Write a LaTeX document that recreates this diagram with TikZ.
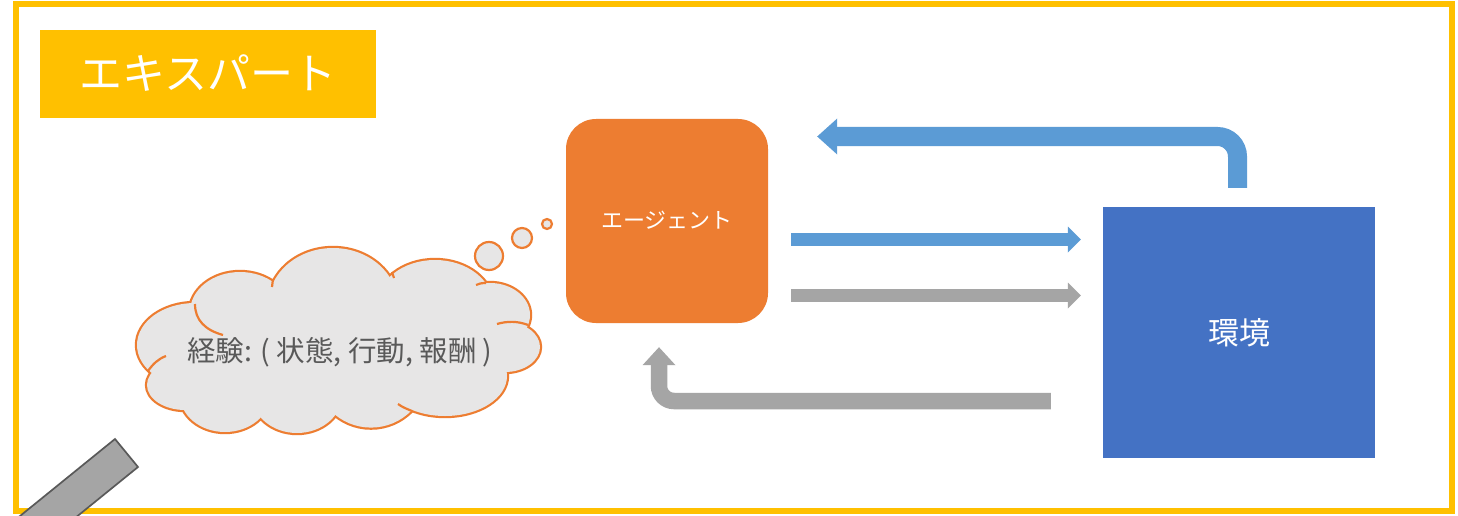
\documentclass[tikz,border=0pt]{standalone}
\usepackage{fontspec}
\setmainfont{Noto Sans CJK JP}
\usetikzlibrary{arrows.meta}

\definecolor{goldframe}{HTML}{FFC000}
\definecolor{agentorange}{HTML}{ED7D31}
\definecolor{envblue}{HTML}{4472C4}
\definecolor{flowblue}{HTML}{5B9BD5}
\definecolor{flowgray}{HTML}{A5A5A5}
\definecolor{cloudfill}{HTML}{E7E6E6}
\definecolor{textgray}{HTML}{595959}
\definecolor{handleedge}{HTML}{595959}

\tikzset{
  fsize/.style={font=\fontsize{#1}{#1}\selectfont},
  box/.style={draw=none, inner sep=0pt, text=white, align=center},
  bubble/.style={circle, draw=agentorange, fill=cloudfill, line width=2.2pt, inner sep=0pt},
  thinflow/.style={line width=13pt, -{Triangle[length=13pt,width=26pt,line width=0pt]}},
  puffseam/.style={agentorange, line width=2.2pt},
}

\begin{document}
\begin{tikzpicture}[x=1pt,y=-1pt]
\useasboundingbox (0,0) rectangle (1458,516);
\fill[white] (0,0) rectangle (1458,516);

% outer frame
\draw[goldframe, line width=6pt] (15.5,4.5) rectangle (1451.5,511);

% title, agent and environment
\node[box, fill=goldframe, minimum width=336pt, minimum height=88pt, fsize=43] (title) at (208,74) {\raisebox{3pt}{エキスパート}};
\node[box, fill=agentorange, rounded corners=30pt, minimum width=202pt, minimum height=204pt, fsize=22] (agent) at (667,221) {\raisebox{1.5pt}{エージェント}};
\node[box, fill=envblue, minimum width=272pt, minimum height=251pt, fsize=31] (env) at (1239,332.5) {\raisebox{2.5pt}{環境}};

% state feedback: environment -> agent (upper bent arrow)
\draw[flowblue, line width=19pt, rounded corners=20pt, shorten <=19pt, shorten >=49pt,
      -{Triangle[length=20pt,width=36pt,line width=0pt]}]
  ([xshift=-1.5pt]env.north) |- ([yshift=84.5pt]agent.east);

% action arrows: agent -> environment
\draw[flowblue, thinflow, shorten <=23pt, shorten >=22pt]
  ([yshift=-18.5pt]agent.east) -- ([yshift=-18.5pt]agent.east -| env.west);
\draw[flowgray, thinflow, shorten <=23pt, shorten >=22pt]
  ([yshift=-74.5pt]agent.east) -- ([yshift=-74.5pt]agent.east -| env.west);

% reward feedback: environment -> agent (lower bent arrow)
\draw[flowgray, line width=16.5pt, rounded corners=15pt, shorten <=52pt, shorten >=24pt,
      -{Triangle[length=18pt,width=33pt,line width=0pt]}]
  ([yshift=-68.5pt]env.west) -| ([xshift=-8pt]agent.south);

% thought cloud: stroked puffs first, then filled puffs on top
\def\puffs{240/312/50/40, 333/305/65/57, 435/305/58/45, 490/315/40/32,
  505/347/35/25, 445/376/62/40, 371/371/56.6/56.6, 297/395/45/38,
  225/395/45/37, 185/385/38/25, 195/345/58/42}
\foreach \cx/\cy/\rx/\ry in \puffs
  \draw[agentorange, line width=4.4pt] (\cx,\cy) ellipse [x radius=\rx, y radius=\ry];
\foreach \cx/\cy/\rx/\ry in \puffs
  \fill[cloudfill] (\cx,\cy) ellipse [x radius=\rx, y radius=\ry];
\fill[cloudfill] (340,345) ellipse [x radius=170, y radius=62];

% short seams where neighbouring puffs overlap
\draw[puffseam] (195,304) .. controls (195,320) and (205,330) .. (223,335);
\draw[puffseam] (476,285) .. controls (479,283.5) and (482,283) .. (486,283);
\draw[puffseam] (497,324) .. controls (507,321) and (518,321) .. (528,325);
\draw[puffseam] (412,411) .. controls (407,409) and (402,407) .. (398,404);
\draw[puffseam] (148,371) .. controls (153,364) and (158,359) .. (166,356);
\draw[puffseam] (273,279) -- (272,287);
\draw[puffseam] (392,272) -- (394,278);

\node[inner sep=0pt, text=textgray, fsize=28.5] (memory) at (340,352) {経験: ( 状態, 行動, 報酬 )};

\node[bubble, minimum size=28pt] (bubbleA) at (489,256) {};
\node[bubble, minimum size=20pt] (bubbleB) at (522,238) {};
\node[bubble, minimum size=10pt] (bubbleC) at (547,224) {};

% handle reaching in from the lower left corner
\begin{scope}
  \clip (0,0) rectangle (1458,516);
  \draw[handleedge, fill=flowgray, line width=1.7pt, line join=miter]
    (115,439) -- (138,467) -- (-17.4,593) -- (-40.4,565) -- cycle;
\end{scope}
\end{tikzpicture}
\end{document}
